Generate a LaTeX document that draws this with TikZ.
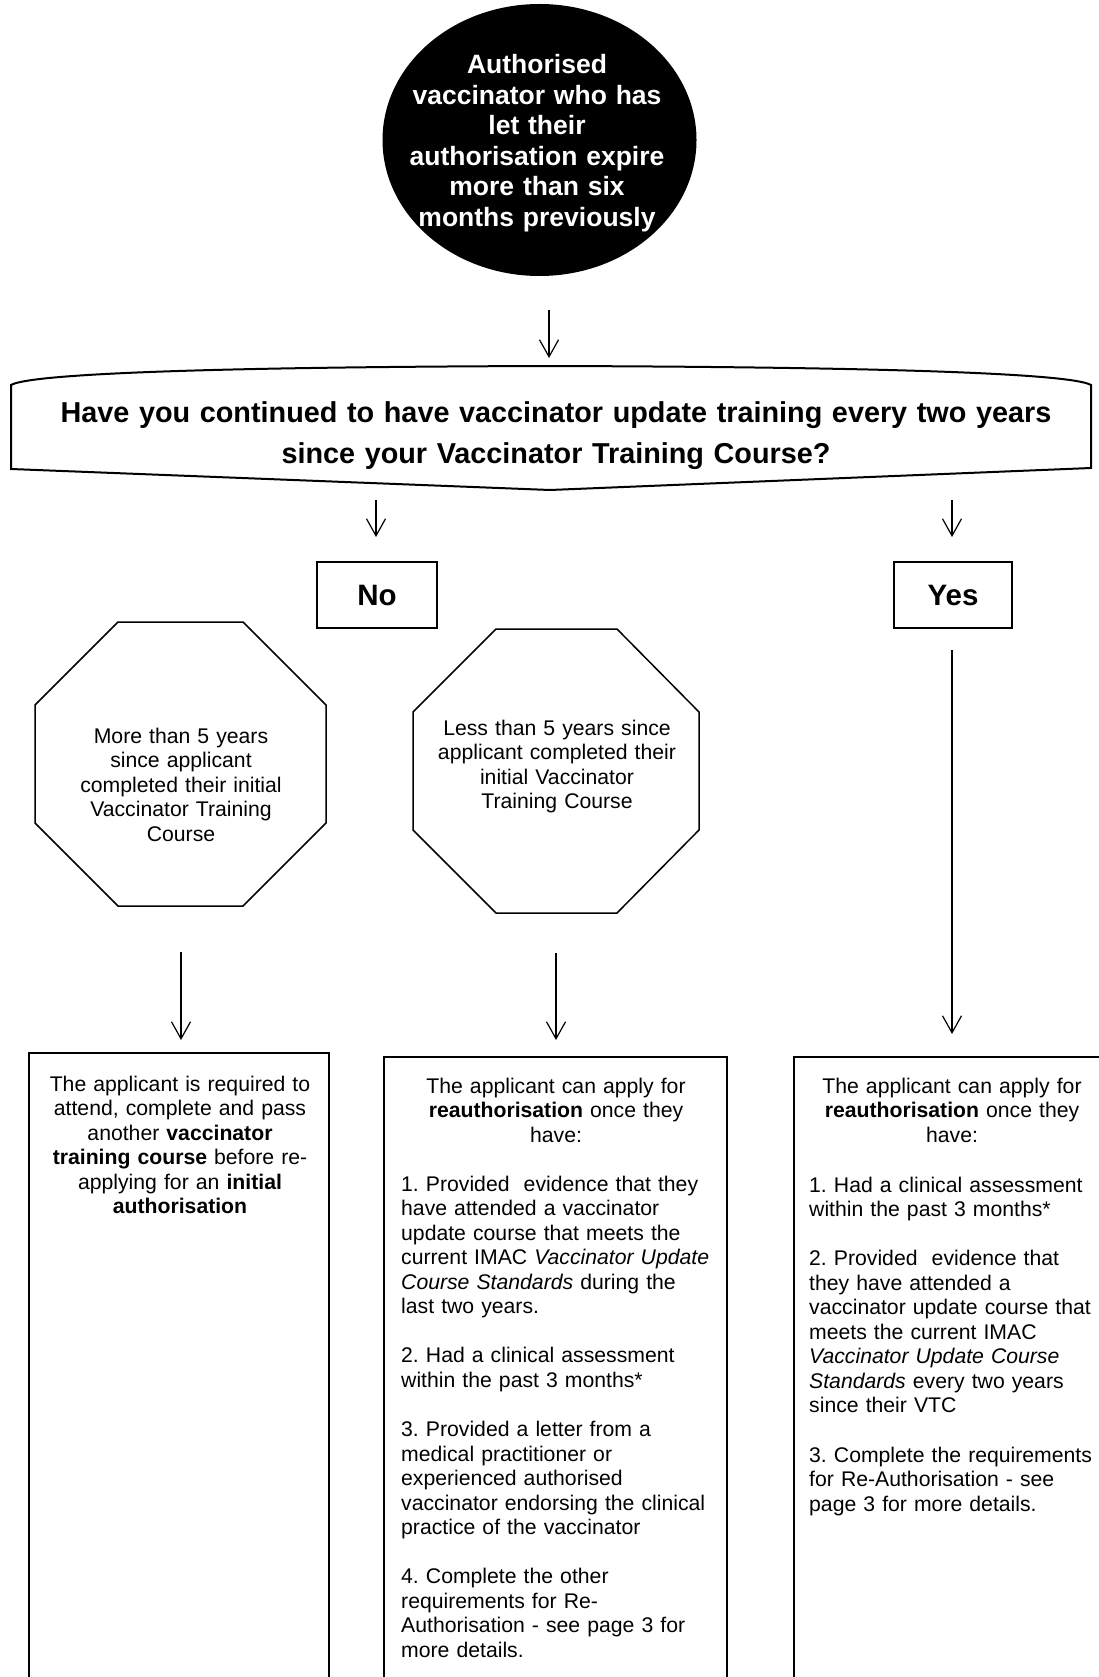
\documentclass[tikz,border=0pt]{standalone}
\usepackage{fontspec}
\setmainfont{Liberation Sans}
\usetikzlibrary{arrows.meta,shapes.geometric}
\frenchspacing

\tikzset{
  outline/.style={draw=black, line width=1.5pt, line join=miter},
  bannerline/.style={draw=black, line width=2pt, line join=miter},
  flow/.style={draw=black, line width=1.2pt,
    -{Straight Barb[length=17pt,width=19pt,line width=1.2pt]}},
  starttext/.style={text=white, inner sep=0pt, align=center, text width=300pt,
    font=\bfseries\fontsize{26.5}{30.5}\selectfont},
  qtext/.style={inner sep=0pt, align=center, text width=1060pt,
    font=\bfseries\fontsize{28.8}{41.5}\selectfont},
  answer/.style={outline, inner sep=0pt, minimum height=66pt,
    font=\bfseries\fontsize{29.5}{34}\selectfont},
  bodyc/.style={inner sep=0pt, align=center, text width=290pt,
    font=\fontsize{21.2}{24.55}\selectfont},
  bodyl/.style={inner sep=0pt, align=left, text width=320pt,
    font=\fontsize{21.2}{24.55}\selectfont}
}

\begin{document}
\begin{tikzpicture}[x=1pt,y=-1pt]
\clip (0,0) rectangle (1099,1677);
\fill[white] (0,0) rectangle (1099,1677);

% starting point
\node[ellipse, fill=black, minimum width=314pt, minimum height=272pt, inner sep=0pt] (start) at (539.5,140) {};
\node[starttext, anchor=base] (starttxt) at (537,74)
  {Authorised\\vaccinator who has\\let their\\authorisation expire\\more than six\\months previously};

\coordinate (a1s) at (549,310);
\coordinate (a1e) at (549,358);
\draw[flow] (a1s) -- (a1e);

% question banner
\draw[bannerline] (11,385) .. controls (30,374) and (200,367) .. (550,366)
  .. controls (900,367) and (1072,374) .. (1091,385)
  -- (1091,468) -- (550,490) -- (11,469) -- cycle;
\node[qtext, anchor=base] (question) at (556,422)
  {Have you continued to have vaccinator update training every two years\\since your Vaccinator Training Course?};

\coordinate (a2s) at (376,500);
\coordinate (a2e) at (376,537);
\draw[flow] (a2s) -- (a2e);
\coordinate (a3s) at (952,500);
\coordinate (a3e) at (952,537);
\draw[flow] (a3s) -- (a3e);

% answers
\node[answer, minimum width=120pt] (no) at (377,595) {No};
\node[answer, minimum width=118pt] (yes) at (953,595) {Yes};

% octagons under "No"
\draw[outline] (118,622) -- (243,622) -- (326,705) -- (326,823) -- (243,906)
  -- (118,906) -- (35,823) -- (35,705) -- cycle;
\node[bodyc, text width=270pt, anchor=base] (more5) at (181,743)
  {More than 5 years\\since applicant\\completed their initial\\Vaccinator Training\\Course};

\draw[outline] (496,629) -- (617,629) -- (699,712) -- (699,830) -- (617,913)
  -- (496,913) -- (413,830) -- (413,712) -- cycle;
\node[bodyc, text width=270pt, anchor=base] (less5) at (557,735)
  {Less than 5 years since\\applicant completed their\\initial Vaccinator\\Training Course};

% arrows to the outcome boxes
\coordinate (a4s) at (181,952);
\coordinate (a4e) at (181,1040);
\draw[flow] (a4s) -- (a4e);
\coordinate (a5s) at (556,953);
\coordinate (a5e) at (556,1040);
\draw[flow] (a5s) -- (a5e);
\coordinate (a6s) at (952,650);
\coordinate (a6e) at (952,1034);
\draw[flow] (a6s) -- (a6e);

% outcome boxes
\draw[outline] (29,1053) rectangle (329,1700);
\draw[outline] (384,1057) rectangle (727,1700);
\draw[outline] (794,1057) rectangle (1120,1700);

\node[bodyc, anchor=base] (retrain) at (180,1091)
  {The applicant is required to\\attend, complete and pass\\another \textbf{vaccinator}\\\textbf{training course} before re-\\applying for an \textbf{initial}\\\textbf{authorisation}};

\node[bodyc, anchor=base] (midhead) at (556,1093)
  {The applicant can apply for\\\textbf{reauthorisation} once they\\have:};
\node[bodyl, anchor=base west] (midlist) at (401,1191)
  {1. Provided\ \ evidence that they\\have attended a vaccinator\\update course that meets the\\current IMAC \textit{Vaccinator Update}\\\textit{Course Standards} during the\\last two years.\\[24.55pt]
   2. Had a clinical assessment\\within the past 3 months*\\[24.55pt]
   3. Provided a letter from a\\medical practitioner or\\experienced authorised\\vaccinator endorsing the clinical\\practice of the vaccinator\\[24.55pt]
   4. Complete the other\\requirements for Re-\\Authorisation - see page 3 for\\more details.};

\node[bodyc, anchor=base] (righthead) at (952,1093)
  {The applicant can apply for\\\textbf{reauthorisation} once they\\have:};
\node[bodyl, anchor=base west] (rightlist) at (809,1192)
  {1. Had a clinical assessment\\within the past 3 months*\\[24.55pt]
   2. Provided\ \ evidence that\\they have attended a\\vaccinator update course that\\meets the current IMAC\\\textit{Vaccinator Update Course}\\\textit{Standards} every two years\\since their VTC\\[24.55pt]
   3. Complete the requirements\\for Re-Authorisation - see\\page 3 for more details.};
\end{tikzpicture}
\end{document}
